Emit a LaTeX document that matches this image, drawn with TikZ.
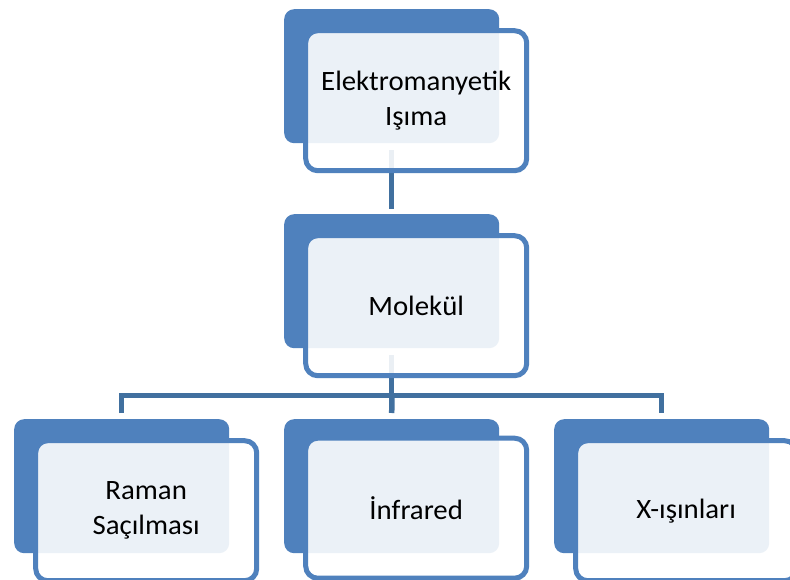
\documentclass[tikz,border=0pt]{standalone}
\usepackage{fontspec}
\setmainfont{Carlito}[FakeStretch=1.03]
\definecolor{accent}{HTML}{4F81BD}
\definecolor{linkblue}{HTML}{41709F}
\pgfdeclarelayer{background}
\pgfsetlayers{background,main}
\begin{document}
\begin{tikzpicture}[x=1pt,y=-1pt,
  backbox/.style={rectangle, rounded corners=10pt, fill=accent,
    minimum width=215pt, minimum height=134pt, inner sep=0pt, anchor=north west},
  frontbox/.style={rectangle, rounded corners=12pt, draw=accent, line width=5pt,
    fill=white, fill opacity=0.89, text opacity=1, text=black,
    minimum width=221pt, minimum height=140pt, inner sep=0pt, align=center,
    font=\fontsize{28}{35}\selectfont},
  link/.style={draw=linkblue, line width=5.5pt, line join=miter}]
\useasboundingbox (0,0) rectangle (790,580);

% back tiles
\node[backbox] (t) at (284,9) {};
\node[backbox] (m) at (284,214) {};
\node[backbox] (l) at (14,419) {};
\node[backbox] (c) at (284,419) {};
\node[backbox] (r) at (554,419) {};

% front cards with the labels
\node[frontbox] (tf) at ([xshift=24.5pt,yshift=-24.5pt]t.center) {Elektromanyetik\\Işıma};
\node[frontbox] (mf) at ([xshift=24.5pt,yshift=-24.5pt]m.center) {Molekül};
\node[frontbox] (lf) at ([xshift=24.5pt,yshift=-24.5pt]l.center) {Raman\\Saçılması};
\node[frontbox] (cf) at ([xshift=24.5pt,yshift=-22pt]c.center) {İnfrared};
\node[frontbox] (rf) at ([xshift=24.5pt,yshift=-24.5pt]r.center) {X-ışınları};

\coordinate (bar) at (392,395.5);

\begin{pgfonlayer}{background}
  \fill[white] (0,0) rectangle (790,580);
  \draw[link] ([yshift=-7pt]t.south) -- ([yshift=5pt]m.north);
  \draw[link] ([yshift=-7pt]m.south) -- (m.south |- bar);
  \draw[link] ([yshift=6pt]l.north) |- (bar) -| ([yshift=6pt]r.north);
  \draw[link] (bar) -- ([yshift=6pt]c.north);
\end{pgfonlayer}
\end{tikzpicture}
\end{document}
